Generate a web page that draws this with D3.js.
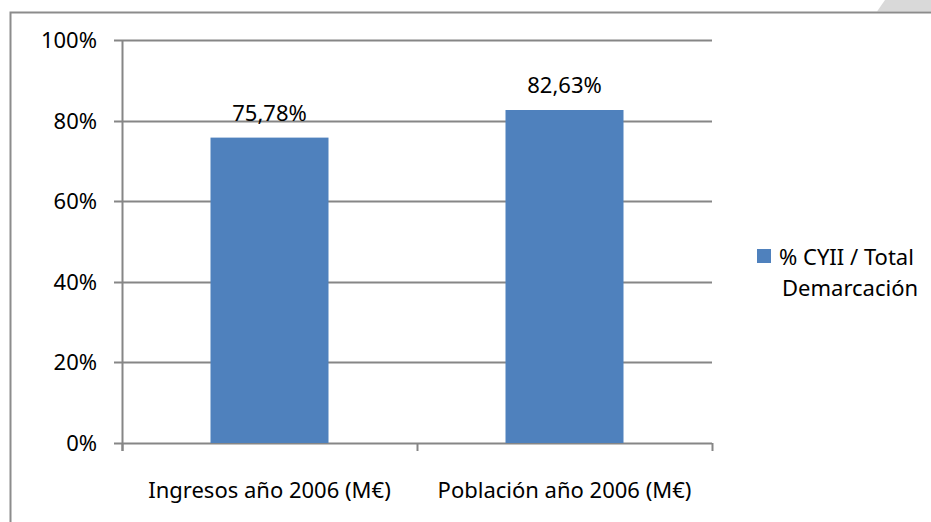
<!DOCTYPE html>
<html>
<head>
<meta charset="utf-8">
<script src="https://cdn.jsdelivr.net/npm/d3@7"></script>
<style>
  body { margin: 0; background: #fff; }
  svg { display: block; font-family: "Noto Sans", "Open Sans", sans-serif; }
</style>
</head>
<body>
<div id="chart"></div>
<script>
const categories = ['Ingresos año 2006 (M€)', 'Población año 2006 (M€)'];
const values = [0.7578, 0.8263];
const valueLabels = ['75,78%', '82,63%'];
const yTicks = [0, 0.2, 0.4, 0.6, 0.8, 1];
const seriesName = ['% CYII / Total', 'Demarcación'];

const width = 931, height = 522;
const margin = { top: 40, right: 219, bottom: 79, left: 122 };
const plotW = width - margin.left - margin.right;
const plotH = height - margin.top - margin.bottom;
const gridColor = '#868686';
const barColor = '#4f81bd';

const svg = d3.select('#chart').append('svg')
  .attr('width', width)
  .attr('height', height);

// page corner + outer frame
svg.append('path')
  .attr('d', 'M877,11.5L885,0L931,0L931,11.5Z')
  .attr('fill', '#d9d9d9');
svg.append('path')
  .attr('d', 'M10.5,522V12.5H931')
  .attr('fill', 'none')
  .attr('stroke', '#8c8c8c')
  .attr('stroke-width', 2);

const g = svg.append('g')
  .attr('transform', `translate(${margin.left},${margin.top})`);

const x = d3.scaleBand()
  .domain(categories)
  .range([0, plotW])
  .paddingInner(0.6)
  .paddingOuter(0.3);

const xCat = d3.scaleBand()
  .domain(categories)
  .range([0, plotW]);

const y = d3.scaleLinear().domain([0, 1]).range([plotH, 0]);

// gridlines
g.append('g')
  .selectAll('line')
  .data(yTicks)
  .join('line')
  .attr('x1', -8)
  .attr('x2', plotW)
  .attr('y1', d => Math.round(y(d)) + 0.5)
  .attr('y2', d => Math.round(y(d)) + 0.5)
  .attr('stroke', gridColor)
  .attr('stroke-width', 2);

// y axis line
g.append('line')
  .attr('x1', 0.5).attr('x2', 0.5)
  .attr('y1', 0).attr('y2', plotH + 8)
  .attr('stroke', gridColor)
  .attr('stroke-width', 2);

// y tick labels
g.append('g')
  .selectAll('text')
  .data(yTicks)
  .join('text')
  .attr('x', -25)
  .attr('y', d => y(d))
  .attr('dy', '0.36em')
  .attr('text-anchor', 'end')
  .attr('font-size', 22)
  .attr('fill', '#000')
  .text(d => d3.format('.0%')(d));

// x category ticks
const xTickPos = [0, plotW / 2, plotW];
g.append('g')
  .selectAll('line')
  .data(xTickPos)
  .join('line')
  .attr('x1', d => d + 0.5).attr('x2', d => d + 0.5)
  .attr('y1', plotH).attr('y2', plotH + 8)
  .attr('stroke', gridColor)
  .attr('stroke-width', 2);

// bars
g.append('g')
  .selectAll('rect')
  .data(values)
  .join('rect')
  .attr('x', (d, i) => x(categories[i]))
  .attr('width', x.bandwidth())
  .attr('y', d => y(d))
  .attr('height', d => y(0) - y(d))
  .attr('fill', barColor);

// value labels
g.append('g')
  .selectAll('text')
  .data(values)
  .join('text')
  .attr('x', (d, i) => x(categories[i]) + x.bandwidth() / 2)
  .attr('y', d => y(d) - 17)
  .attr('text-anchor', 'middle')
  .attr('font-size', 22)
  .attr('fill', '#000')
  .text((d, i) => valueLabels[i]);

// category labels
g.append('g')
  .selectAll('text')
  .data(categories)
  .join('text')
  .attr('x', d => xCat(d) + xCat.bandwidth() / 2)
  .attr('y', plotH + 55)
  .attr('text-anchor', 'middle')
  .attr('font-size', 22)
  .attr('fill', '#000')
  .text(d => d);

// legend
const legend = svg.append('g').attr('transform', 'translate(757,249)');
legend.append('rect')
  .attr('width', 14).attr('height', 14)
  .attr('fill', barColor);
legend.append('text')
  .attr('x', 22)
  .attr('y', 16)
  .attr('font-size', 22)
  .attr('fill', '#000')
  .selectAll('tspan')
  .data(seriesName)
  .join('tspan')
  .attr('x', (d, i) => i === 0 ? 22 : 25)
  .attr('dy', (d, i) => i === 0 ? 0 : 31)
  .text(d => d);
</script>
</body>
</html>
